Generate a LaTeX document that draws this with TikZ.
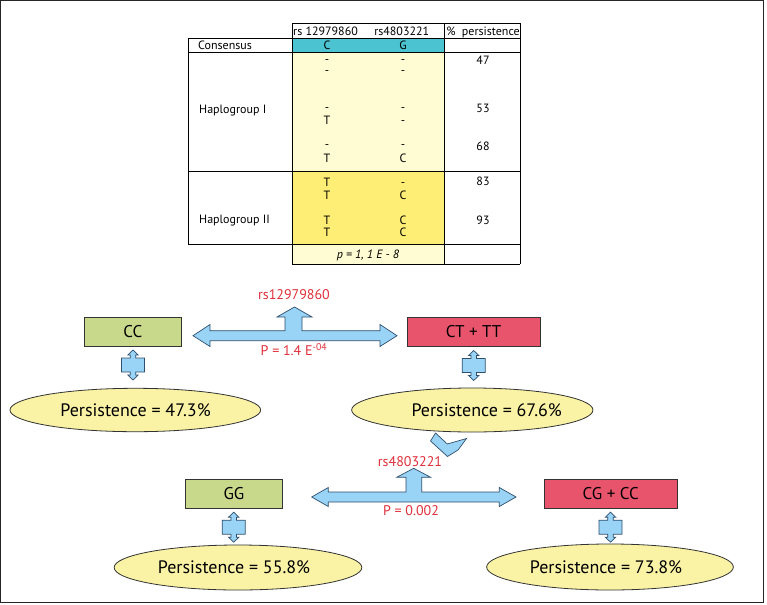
\documentclass[tikz,border=0pt]{standalone}
\usepackage{fontspec}
\setmainfont{PT Sans}
\usetikzlibrary{shapes.geometric,calc}
\definecolor{boxgreen}{HTML}{C8D98C}
\definecolor{boxred}{HTML}{E8546B}
\definecolor{arrblue}{HTML}{99D3F5}
\definecolor{arrline}{HTML}{2F4F6F}
\definecolor{ellfill}{HTML}{FAF3A6}
\definecolor{cyanfill}{HTML}{4CC3D0}
\definecolor{lightyel}{HTML}{FFFBD2}
\definecolor{yel}{HTML}{FFEE75}
\definecolor{redtxt}{HTML}{E0303C}
\tikzset{
  tabtxt/.style={font=\fontsize{12}{13}\selectfont, inner sep=0pt, text height=8.5pt, text depth=0pt, anchor=center},
  tabline/.style={draw=black, line width=0.8pt},
  genobox/.style={draw=black!80, line width=0.8pt, inner sep=0pt, font=\fontsize{17}{18}\selectfont, text height=12pt, text depth=0pt},
  persell/.style={ellipse, draw=black!80, line width=0.8pt, fill=ellfill, inner sep=0pt},
  perstxt/.style={font=\fontsize{18}{20}\selectfont, inner sep=0pt, text height=12.6pt, text depth=0pt},
  redlab/.style={text=redtxt, font=\fontsize{14}{15}\selectfont, inner sep=0pt, text height=9.8pt, text depth=0pt},
  blockarrow/.style={fill=arrblue, draw=arrline, line width=0.7pt, line join=miter},
  updown/.pic={
    \path[blockarrow] (-11.5,-7) -- (-2.8,-7) -- (-2.8,-10) -- (-5.2,-10) -- (0,-15) -- (5.2,-10) -- (2.8,-10) -- (2.8,-7) -- (11.5,-7) -- (11.5,7) -- (2.8,7) -- (2.8,10) -- (5.2,10) -- (0,15) -- (-5.2,10) -- (-2.8,10) -- (-2.8,7) -- (-11.5,7) -- cycle;
  }
}
\begin{document}
\begin{tikzpicture}[x=1pt,y=-1pt]
\useasboundingbox (0,0) rectangle (767,604);
\fill[white] (0,0) rectangle (767,604);
\draw[black!85, line width=1pt] (0.8,0.8) rectangle (763.3,602.5);

% ---------- table ----------
\fill[cyanfill] (292,38.3) rectangle (444.5,52.5);
\fill[lightyel] (292,52.5) rectangle (444.5,171.7);
\fill[yel] (292,171.7) rectangle (444.5,244.3);
\fill[lightyel] (292,244.3) rectangle (444.5,264);
\path[tabline] (292,23.3) -- (520,23.3);
\path[tabline] (188.3,38.3) -- (520,38.3);
\path[tabline] (188.3,52.5) -- (520,52.5);
\path[tabline] (188.3,171.7) -- (520,171.7);
\path[tabline] (188.3,244.3) -- (520,244.3);
\path[tabline] (292,264) -- (520,264);
\path[tabline] (188.3,38.3) -- (188.3,244.3);
\path[tabline] (292,23.3) -- (292,264);
\path[tabline] (444.5,23.3) -- (444.5,264);
\path[tabline] (520,23.3) -- (520,264);

\node[tabtxt] (h1) at (325.5,31.5) {rs 12979860};
\node[tabtxt] (h2) at (401.7,31.5) {rs4803221};
\node[tabtxt] (h3) at (483,31.5) {\%~~persistence};
\node[tabtxt, anchor=west] (cons) at (198,45.5) {Consensus};
\node[tabtxt] (c1) at (327,45.5) {C};
\node[tabtxt] (c2) at (403,45.5) {G};
% haplogroup I
\node[tabtxt] (r1a) at (327,59.5) {-};
\node[tabtxt] (r1b) at (403,59.5) {-};
\node[tabtxt] (r2a) at (327,70.5) {-};
\node[tabtxt] (r2b) at (403,70.5) {-};
\node[tabtxt] (r3a) at (327,107.5) {-};
\node[tabtxt] (r3b) at (403,107.5) {-};
\node[tabtxt] (r4a) at (327,120) {T};
\node[tabtxt] (r4b) at (403,120) {-};
\node[tabtxt] (r5a) at (327,144) {-};
\node[tabtxt] (r5b) at (403,144) {-};
\node[tabtxt] (r6a) at (327,158.5) {T};
\node[tabtxt] (r6b) at (403,158.5) {C};
\node[tabtxt, anchor=west] (hg1) at (199,109) {Haplogroup I};
\node[tabtxt] (p47) at (483,60) {47};
\node[tabtxt] (p53) at (483,108) {53};
\node[tabtxt] (p68) at (483,146.5) {68};
% haplogroup II
\node[tabtxt] (r7a) at (327,182.5) {T};
\node[tabtxt] (r7b) at (403,182.5) {-};
\node[tabtxt] (r8a) at (327,195) {T};
\node[tabtxt] (r8b) at (403,195) {C};
\node[tabtxt] (r9a) at (327,220) {T};
\node[tabtxt] (r9b) at (403,220) {C};
\node[tabtxt] (r10a) at (327,232.5) {T};
\node[tabtxt] (r10b) at (403,232.5) {C};
\node[tabtxt, anchor=west] (hg2) at (199,219.5) {Haplogroup II};
\node[tabtxt] (p83) at (483,181.5) {83};
\node[tabtxt] (p93) at (483,220) {93};
\node[tabtxt, font=\fontsize{12}{13}\selectfont\itshape] (pval) at (368,254.5) {p = 1, 1 E - 8};

% ---------- upper diagram ----------
\node[genobox, fill=boxgreen, minimum width=97.5pt, minimum height=28.5pt] (cc) at (132.75,331.75) {CC};
\node[genobox, fill=boxred, minimum width=132.7pt, minimum height=28.7pt] (cttt) at (473.6,331.7) {CT + TT};

\path[blockarrow] (193,335.7) -- (210,324.5) -- (210,330.7) -- (285,330.7) -- (285,317) -- (277,317) -- (294.5,307) -- (312,317) -- (302,317) -- (302,330.7) -- (380,330.7) -- (380,324.5) -- (397,335.7) -- (380,346.5) -- (380,340.7) -- (210,340.7) -- (210,346.5) -- cycle;
\node[redlab] (rs1) at (294,295) {rs12979860};
\node[redlab] (p1) at (294,351) {P = 1.4 E\textsuperscript{-04}};

\pic at (133,365) {updown};
\pic at (473.7,365.5) {updown};

\node[persell, minimum width=250.7pt, minimum height=43.4pt] (e1) at (135.3,410) {};
\node[perstxt] (t1) at (135.5,410) {Persistence = 47.3\%};
\node[persell, minimum width=241.3pt, minimum height=44pt] (e2) at (472.3,410) {};
\node[perstxt] (t2) at (486.7,410) {Persistence = 67.6\%};

% chevron
\path[blockarrow] (435.5,433) -- (447.3,444) -- (466.5,438.5) -- (458,450) -- (447.5,456.5) -- (430.5,441) -- cycle;

% ---------- lower diagram ----------
\node[genobox, fill=boxgreen, minimum width=97.7pt, minimum height=29pt] (gg) at (233.9,493.8) {GG};
\node[genobox, fill=boxred, minimum width=133.3pt, minimum height=29pt] (cgcc) at (610.7,493.8) {CG + CC};

\path[blockarrow] (311.7,497) -- (328.3,487.5) -- (328.3,492) -- (406,492) -- (406,477.3) -- (396.7,477.3) -- (413.7,468.3) -- (430.7,477.3) -- (421.7,477.3) -- (421.7,492) -- (499.3,492) -- (499.3,487.5) -- (516,497) -- (499.3,506.5) -- (499.3,502) -- (328.3,502) -- (328.3,506.5) -- cycle;
\node[redlab] (rs2) at (410,462) {rs4803221};
\node[redlab] (p2) at (411,510.5) {P = 0.002};

\pic at (233.7,527.2) {updown};
\pic at (610.5,527.2) {updown};

\node[persell, minimum width=247.7pt, minimum height=45pt] (e3) at (238,567.5) {};
\node[perstxt] (t3) at (234,567.5) {Persistence = 55.8\%};
\node[persell, minimum width=246.7pt, minimum height=46pt] (e4) at (610,567) {};
\node[perstxt] (t4) at (606,567) {Persistence = 73.8\%};
\end{tikzpicture}
\end{document}
